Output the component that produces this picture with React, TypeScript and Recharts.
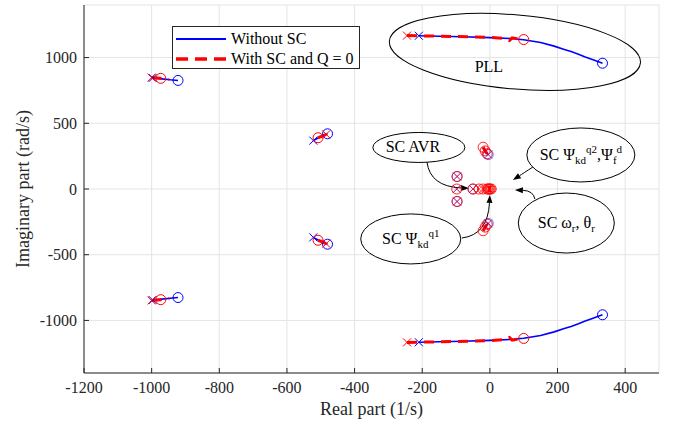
import React from "react";
import {
  ScatterChart,
  Scatter,
  XAxis,
  YAxis,
  CartesianGrid,
  ReferenceDot,
  ReferenceLine,
  Legend,
} from "recharts";

type Pt = [number, number];

const FONT = "'Liberation Serif', 'DejaVu Serif', serif";
const BLUE = "#0000ff";
const RED = "#ff0000";
const INK = "#262626";

const xTicks = [-1200, -1000, -800, -600, -400, -200, 0, 200, 400];
const yTicks = [-1000, -500, 0, 500, 1000];
const xLabel = "Real part (1/s)";
const yLabel = "Imaginary part (rad/s)";
const legendLabels = ["Without SC", "With SC and Q = 0"];

// root loci without SC
const blueLocusPllUp: Pt[] = [
  [-210, 1166], [-150, 1162], [-80, 1158], [0, 1152], [60, 1145], [100, 1136],
  [150, 1115], [190, 1087], [220, 1062], [240, 1046], [250, 1036], [262, 1026],
  [280, 1006], [305, 983], [333, 957],
];
const blueLocusPllDown: Pt[] = [
  [-210, -1166], [-150, -1162], [-80, -1158], [0, -1152], [60, -1145], [100, -1136],
  [150, -1115], [190, -1087], [220, -1062], [240, -1046], [250, -1036], [262, -1026],
  [280, -1006], [305, -983], [333, -957],
];
const blueLocusLeftUp: Pt[] = [[-997, 845], [-970, 838], [-945, 831], [-922, 826]];
const blueLocusLeftDown: Pt[] = [[-997, -845], [-970, -838], [-945, -831], [-922, -826]];
const blueLocusMidUp: Pt[] = [[-522, 368], [-505, 392], [-490, 408], [-480, 420]];
const blueLocusMidDown: Pt[] = [[-522, -368], [-505, -392], [-490, -408], [-480, -420]];
const blueLocusScUp: Pt[] = [[-8, 272], [-4, 258]];
const blueLocusScDown: Pt[] = [[-8, -272], [-4, -258]];

// root loci with SC and Q = 0
const redLocusPllUp: Pt[] = [
  [-245, 1167], [-180, 1164], [-100, 1160], [0, 1153], [40, 1147], [52, 1138],
  [58, 1130], [66, 1150], [75, 1146], [85, 1141],
];
const redLocusPllDown: Pt[] = [
  [-245, -1167], [-180, -1164], [-100, -1160], [0, -1153], [40, -1147], [52, -1138],
  [58, -1130], [66, -1150], [75, -1146], [85, -1141],
];
const redLocusLeftUp: Pt[] = [[-1000, 848], [-975, 842], [-948, 834]];
const redLocusLeftDown: Pt[] = [[-1000, -848], [-975, -842], [-948, -834]];
const redLocusMidUp: Pt[] = [[-508, 390], [-496, 402], [-484, 416]];
const redLocusMidDown: Pt[] = [[-508, -390], [-496, -402], [-484, -416]];
const redLocusScUp: Pt[] = [[-20, 320], [-14, 290], [-8, 268]];
const redLocusScDown: Pt[] = [[-20, -320], [-14, -290], [-8, -268]];
const redLocusScReal: Pt[] = [[-6, 0], [4, 0]];

// poles (x = start, o = end)
const blueCrosses: Pt[] = [[-210, 1166], [-210, -1166], [-997, 845], [-997, -845], [-522, 368], [-522, -368]];
const blueCircles: Pt[] = [[333, 957], [333, -957], [-922, 826], [-922, -826], [-480, 420], [-480, -420]];
const redCrosses: Pt[] = [[-245, 1167], [-245, -1167], [-1000, 848], [-1000, -848], [-484, 416], [-484, -416]];
const redCircles: Pt[] = [[100, 1137], [100, -1137], [-973, 842], [-973, -842], [-508, 390], [-508, -390]];

// synchronous condenser modes
const scRedCircles: Pt[] = [
  [-97, 95], [-98, 0], [-97, -95], [-50, 0], [-32, 0], [-20, 0], [-8, 0], [-5, 0],
  [-2, 0], [1, 0], [4, 0], [-20, 318], [-14, 290], [-8, 268], [-20, -318], [-14, -290], [-8, -268],
];
const scRedCrosses: Pt[] = [
  [-97, 95], [-98, 0], [-97, -95], [-50, 0], [-32, 0], [-20, 0], [-3, 0], [-14, 285], [-14, -285],
];
const scBlueCircles: Pt[] = [[-97, 95], [-97, -95], [-50, 0], [-5, 262], [-5, -262]];
const scBlueCrosses: Pt[] = [[-97, 95], [-98, 0], [-97, -95], [-50, 0], [-5, 262], [-5, -262]];

const blueLoci = [
  blueLocusPllUp, blueLocusPllDown, blueLocusLeftUp, blueLocusLeftDown,
  blueLocusMidUp, blueLocusMidDown, blueLocusScUp, blueLocusScDown,
];
const redLoci = [
  redLocusPllUp, redLocusPllDown, redLocusLeftUp, redLocusLeftDown,
  redLocusMidUp, redLocusMidDown, redLocusScUp, redLocusScDown,
];

const toPts = (a: Pt[]) => a.map(([x, y]) => ({ x, y }));

const noShape = () => <g />;
const ring = (color: string, opacity = 1) => (p: any) => (
  <circle cx={p.cx} cy={p.cy} r={5} fill="none" stroke={color} strokeOpacity={opacity} strokeWidth={1} />
);
const cross = (color: string, opacity = 1) => (p: any) => (
  <path
    d={`M${p.cx - 4},${p.cy - 4}L${p.cx + 4},${p.cy + 4}M${p.cx - 4},${p.cy + 4}L${p.cx + 4},${p.cy - 4}`}
    stroke={color}
    strokeOpacity={opacity}
    strokeWidth={1}
    fill="none"
  />
);

// annotation bubbles
const Bubble = ({ cx, cy, rx, ry, rot = 0, fill = "#fff", children }: any) => (
  <g fontFamily={FONT} fontSize={16} fill="#000">
    <ellipse
      cx={cx}
      cy={cy}
      rx={rx}
      ry={ry}
      transform={`rotate(${rot} ${cx} ${cy})`}
      fill={fill}
      stroke="#000"
      strokeWidth={1}
    />
    {children}
  </g>
);

const Arrow = ({ x1, y1, x2, y2, bend }: any) => {
  const mx = (x1 + x2) / 2;
  const my = (y1 + y2) / 2;
  let qx = mx;
  let qy = my;
  if (bend === "v") {
    qx = x1 + (mx - x1) * 0.15;
    qy = y2 + (my - y2) * 0.15;
  } else if (bend === "h") {
    qx = x2 + (mx - x2) * 0.15;
    qy = y1 + (my - y1) * 0.15;
  }
  const a = Math.atan2(y2 - qy, x2 - qx);
  const L = 8;
  const W = 3;
  const bx = x2 - L * Math.cos(a);
  const by = y2 - L * Math.sin(a);
  const head = `${x2},${y2} ${bx - W * Math.sin(a)},${by + W * Math.cos(a)} ${bx + W * Math.sin(a)},${by - W * Math.cos(a)}`;
  return (
    <g>
      <path d={`M${x1},${y1} Q${qx},${qy} ${bx},${by}`} fill="none" stroke="#000" strokeWidth={1} />
      <polygon points={head} fill="#000" />
    </g>
  );
};

const LegendBox = () => (
  <svg width={188} height={43} style={{ display: "block" }}>
    <rect x={0.5} y={0.5} width={187} height={42} fill="#fff" stroke={INK} strokeWidth={1} />
    <line x1={4} x2={54} y1={13} y2={13} stroke={BLUE} strokeWidth={2} />
    <line x1={4} x2={54} y1={33} y2={33} stroke={RED} strokeWidth={3.5} strokeDasharray="12 7" />
    <g fontFamily={FONT} fontSize={16} fill="#000">
      <text x={59} y={18}>{legendLabels[0]}</text>
      <text x={59} y={38}>{legendLabels[1]}</text>
    </g>
  </svg>
);

export default function App() {
  return (
    <div style={{ width: 674, height: 426, background: "#fff" }}>
      <style>{`body{margin:0} .recharts-wrapper text, .recharts-wrapper tspan { font-family: ${FONT} !important; }`}</style>
      <ScatterChart width={674} height={426} margin={{ top: 5, right: 15, bottom: 0, left: 0 }}>
        <CartesianGrid stroke="#e4e4e4" strokeWidth={1} />
        <XAxis
          type="number"
          dataKey="x"
          domain={[-1200, 500]}
          ticks={xTicks}
          interval={0}
          allowDataOverflow
          height={53}
          tickSize={-5}
          tickMargin={14}
          stroke={INK}
          tick={{ fill: INK, fontSize: 16, fontFamily: FONT }}
          label={{ value: xLabel, position: "insideBottom", offset: 11, fill: INK, fontSize: 18, fontFamily: FONT }}
        />
        <XAxis
          xAxisId="top"
          orientation="top"
          type="number"
          dataKey="x"
          domain={[-1200, 500]}
          ticks={xTicks}
          interval={0}
          height={0}
          tick={false}
          tickSize={-5}
          stroke={INK}
        />
        <YAxis
          type="number"
          dataKey="y"
          domain={[-1400, 1400]}
          ticks={yTicks}
          interval={0}
          allowDataOverflow
          width={84}
          tickSize={-5}
          tickMargin={12}
          stroke={INK}
          tick={{ fill: INK, fontSize: 16, fontFamily: FONT }}
          label={{
            value: yLabel,
            angle: -90,
            position: "insideLeft",
            offset: 23,
            fill: INK,
            fontSize: 18,
            fontFamily: FONT,
            style: { textAnchor: "middle" },
          }}
        />
        <YAxis
          yAxisId="right"
          orientation="right"
          type="number"
          dataKey="y"
          domain={[-1400, 1400]}
          ticks={yTicks}
          interval={0}
          width={0}
          tick={false}
          tickSize={-5}
          stroke={INK}
        />

        {blueLoci.map((d, i) => (
          <Scatter
            key={`bl${i}`}
            data={toPts(d)}
            line={{ stroke: BLUE, strokeWidth: 1.6 }}
            lineType="joint"
            shape={noShape}
            isAnimationActive={false}
          />
        ))}
        {redLoci.map((d, i) => (
          <Scatter
            key={`rl${i}`}
            data={toPts(d)}
            line={{ stroke: RED, strokeWidth: 3, strokeDasharray: "10 7" }}
            lineType="joint"
            shape={noShape}
            isAnimationActive={false}
          />
        ))}
        <Scatter
          data={toPts(redLocusScReal)}
          line={{ stroke: RED, strokeWidth: 7 }}
          lineType="joint"
          shape={noShape}
          isAnimationActive={false}
        />

        <Scatter data={toPts(blueCircles)} shape={ring(BLUE)} isAnimationActive={false} />
        <Scatter data={toPts(blueCrosses)} shape={cross(BLUE)} isAnimationActive={false} />
        <Scatter data={toPts(redCircles)} shape={ring(RED)} isAnimationActive={false} />
        <Scatter data={toPts(redCrosses)} shape={cross(RED)} isAnimationActive={false} />
        <Scatter data={toPts(scBlueCircles)} shape={ring(BLUE, 0.6)} isAnimationActive={false} />
        <Scatter data={toPts(scBlueCrosses)} shape={cross(BLUE, 0.6)} isAnimationActive={false} />
        <Scatter data={toPts(scRedCircles)} shape={ring(RED, 0.85)} isAnimationActive={false} />
        <Scatter data={toPts(scRedCrosses)} shape={cross(RED, 0.6)} isAnimationActive={false} />

        <ReferenceDot
          x={74}
          y={1043}
          r={0}
          shape={(p: any) => (
            <Bubble cx={p.cx} cy={p.cy} rx={126} ry={37} rot={5} fill="none">
              <text x={p.cx - 26} y={p.cy + 20} textAnchor="middle">PLL</text>
            </Bubble>
          )}
        />
        <ReferenceDot
          x={-210}
          y={316}
          r={0}
          shape={(p: any) => (
            <Bubble cx={p.cx} cy={p.cy} rx={46} ry={15}>
              <text x={p.cx - 6} y={p.cy + 5} textAnchor="middle">SC AVR</text>
            </Bubble>
          )}
        />
        <ReferenceDot
          x={-234}
          y={-380}
          r={0}
          shape={(p: any) => (
            <Bubble cx={p.cx} cy={p.cy} rx={50} ry={25}>
              <text x={p.cx} y={p.cy + 5} textAnchor="middle">
                SC Ψ<tspan fontSize={11} dy={4}>kd</tspan>
                <tspan fontSize={11} dy={-11}>q1</tspan>
              </text>
            </Bubble>
          )}
        />
        <ReferenceDot
          x={269}
          y={259}
          r={0}
          shape={(p: any) => (
            <Bubble cx={p.cx} cy={p.cy} rx={54} ry={27}>
              <text x={p.cx} y={p.cy + 5} textAnchor="middle">
                SC Ψ<tspan fontSize={11} dy={4}>kd</tspan>
                <tspan fontSize={11} dy={-11}>q2</tspan>
                <tspan dy={7}>,Ψ</tspan>
                <tspan fontSize={11} dy={4}>f</tspan>
                <tspan fontSize={11} dy={-11}>d</tspan>
              </text>
            </Bubble>
          )}
        />
        <ReferenceDot
          x={226}
          y={-259}
          r={0}
          shape={(p: any) => (
            <Bubble cx={p.cx} cy={p.cy} rx={48} ry={30}>
              <text x={p.cx} y={p.cy + 5} textAnchor="middle">
                SC ω<tspan fontSize={11} dy={4}>r</tspan>
                <tspan dy={-4}>, θ</tspan>
                <tspan fontSize={11} dy={4}>r</tspan>
              </text>
            </Bubble>
          )}
        />

        <ReferenceLine segment={[{ x: -186, y: 205 }, { x: -62, y: 5 }]} shape={(p: any) => <Arrow {...p} bend="v" />} />
        <ReferenceLine segment={[{ x: -83, y: -373 }, { x: 0, y: -45 }]} shape={(p: any) => <Arrow {...p} bend="h" />} />
        <ReferenceLine segment={[{ x: 127, y: 167 }, { x: 68, y: 68 }]} shape={(p: any) => <Arrow {...p} bend="s" />} />
        <ReferenceLine segment={[{ x: 133, y: -76 }, { x: 74, y: -8 }]} shape={(p: any) => <Arrow {...p} bend="v" />} />

        <Legend
          layout="horizontal"
          verticalAlign="middle"
          align="center"
          wrapperStyle={{ left: 172, top: 26, width: "auto", height: "auto" }}
          content={() => <LegendBox />}
        />
      </ScatterChart>
    </div>
  );
}
